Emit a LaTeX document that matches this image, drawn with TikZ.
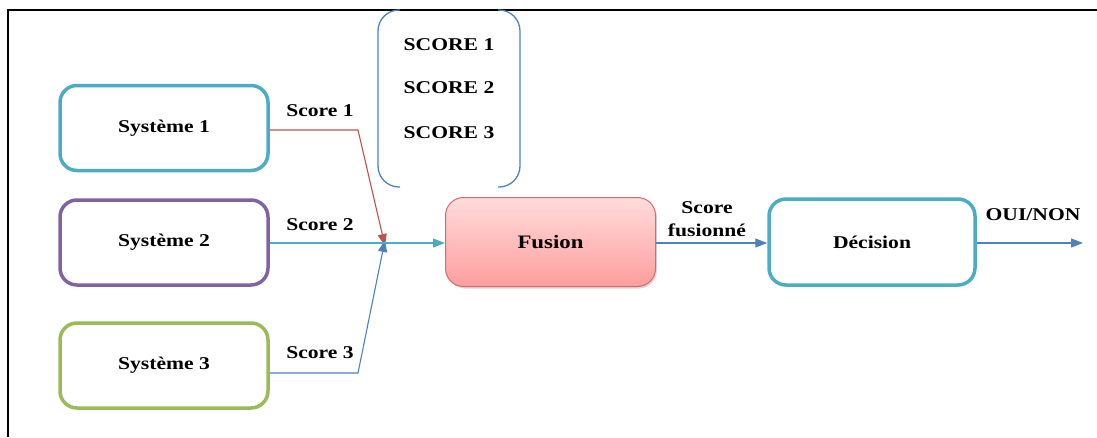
\documentclass[tikz,border=0pt]{standalone}
\usepackage{fontspec}
\setmainfont{Liberation Serif}[FakeStretch=1.2]
\usetikzlibrary{arrows.meta,shadows}

\definecolor{cteal}{HTML}{4BACC6}
\definecolor{cpurple}{HTML}{8064A2}
\definecolor{cgreen}{HTML}{9BBB59}
\definecolor{cblue}{HTML}{4F81BD}
\definecolor{cred}{HTML}{C0504D}
\definecolor{fustop}{HTML}{FFDCDC}
\definecolor{fusbot}{HTML}{FF9D9D}
\definecolor{fusedge}{HTML}{D46A6A}

\tikzset{
  lbl/.style={font=\fontsize{18}{20}\selectfont\bfseries, text=black},
  sysbox/.style={draw, line width=3.5pt, rounded corners=17pt,
    minimum width=208pt, minimum height=85pt, inner sep=0pt,
    font=\fontsize{18}{20}\selectfont\bfseries},
  conn/.style={line width=1.1pt, -{Triangle[length=12pt,width=9pt]}},
}

\begin{document}
\begin{tikzpicture}[x=1pt,y=-1pt]
\useasboundingbox (0,0) rectangle (1097,437);

% outer frame
\draw[line width=1.3pt] (8,437) -- (8,10) -- (1097,10);

% system boxes
\node[sysbox, draw=cteal]   (s1) at (164,128)   {Système 1};
\node[sysbox, draw=cpurple] (s2) at (164,242.5) {Système 2};
\node[sysbox, draw=cgreen]  (s3) at (164,365.5) {Système 3};

% fusion block
\node[draw=fusedge, line width=1pt, rounded corners=18pt,
      top color=fustop, bottom color=fusbot,
      drop shadow={shadow xshift=1.5pt, shadow yshift=-2pt, opacity=0.3},
      minimum width=210pt, minimum height=89pt, inner sep=0pt,
      font=\fontsize{19}{20}\selectfont\bfseries] (fus) at (550.5,242) {Fusion};

% decision block
\node[sysbox, draw=cteal, minimum width=206pt, minimum height=86pt] (dec) at (872,242) {Décision};

% bracket pair listing the scores
\draw[cblue, line width=1.3pt, rounded corners=21pt]
  (400,10) -- (378,10) -- (378,187) -- (400,187);
\draw[cblue, line width=1.3pt, rounded corners=21pt]
  (498,10) -- (520,10) -- (520,187) -- (498,187);
\node[lbl] (l1) at (449,45)  {SCORE 1};
\node[lbl] (l2) at (449,88)  {SCORE 2};
\node[lbl] (l3) at (449,133) {SCORE 3};

% score connectors
\coordinate (j)  at (385,243);
\coordinate (k1) at (358,130);
\coordinate (k3) at (358,373);
\coordinate (out) at (1083,243);
\draw[conn, cred]  (s1.east |- k1) -- (k1) -- ([yshift=-3pt]j);
\draw[conn, cblue] (s3.east |- k3) -- (k3) -- ([yshift=3pt]j);
\draw[conn, cteal] (s2.east |- j) -- (fus.west |- j);
\draw[conn, cblue] (fus.east |- j) -- (dec.west |- j);
\draw[conn, cblue] (dec.east |- j) -- (out);

% connector labels
\node[lbl] (t1) at (320,111) {Score 1};
\node[lbl] (t2) at (320,225) {Score 2};
\node[lbl] (t3) at (320,353) {Score 3};
\node[lbl, align=center] (tf) at (707,219) {Score\\[3pt]fusionné};
\node[lbl] (to) at (1033,215) {OUI/NON};
\end{tikzpicture}
\end{document}
